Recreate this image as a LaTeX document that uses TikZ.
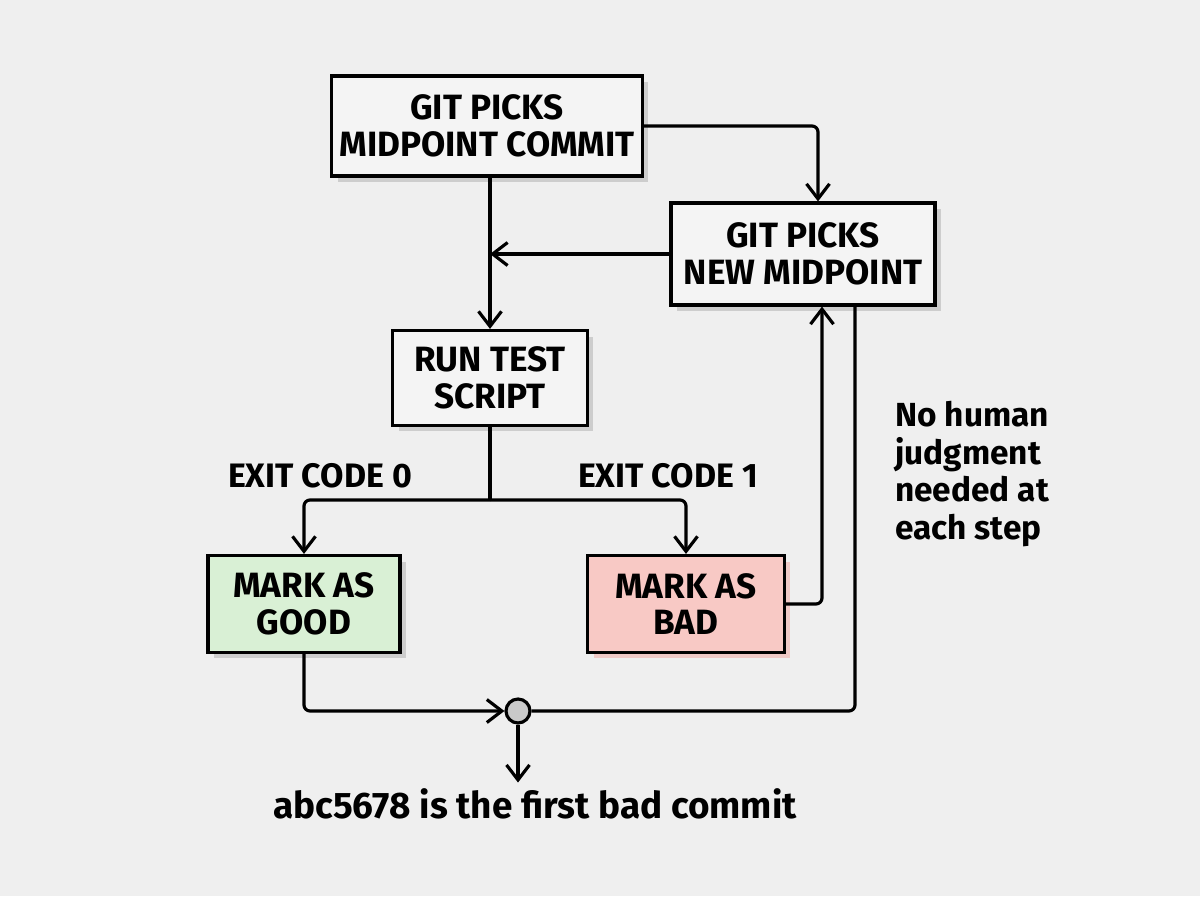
\documentclass[tikz,border=0pt]{standalone}
\usepackage{fontspec}
\setmainfont{Fira Sans}
\usetikzlibrary{arrows.meta,positioning,shadows}
\definecolor{paper}{HTML}{EFEFEF}
\definecolor{boxfill}{HTML}{F4F4F4}
\definecolor{goodfill}{HTML}{D9F0D5}
\definecolor{badfill}{HTML}{F8C9C5}
\definecolor{joinfill}{HTML}{C9C9C9}

\begin{document}
\begin{tikzpicture}[
    x=0.02cm, y=-0.02cm,
    box/.style={rectangle, draw, line width=1.8pt, inner sep=0pt, align=center, fill=boxfill,
        font=\fontsize{20}{21}\selectfont\bfseries,
        drop shadow={shadow xshift=0.12cm, shadow yshift=-0.12cm, fill=black, opacity=0.14}},
    good/.style={box, fill=goodfill},
    bad/.style={box, fill=badfill, drop shadow={shadow xshift=0.12cm, shadow yshift=-0.12cm, fill=badfill, opacity=0.8}},
    arrow/.style={-{Straight Barb[length=0.3cm, width=0.46cm, line width=1.8pt]}, line width=1.8pt, rounded corners=0.12cm},
    line/.style={line width=1.8pt, rounded corners=0.12cm},
    label/.style={font=\fontsize{19.3}{21}\selectfont\bfseries},
    note/.style={font=\fontsize{19}{21.5}\selectfont\bfseries, align=left}
]
\fill[paper] (0,0) rectangle (1200,896);
\useasboundingbox (0,0) rectangle (1200,896);

% Nodes
\node[box, minimum width=6.22cm, minimum height=2cm]    (midc) at (487, 126) {GIT PICKS\\MIDPOINT COMMIT};
\node[box, minimum width=5.28cm, minimum height=2.04cm] (newm) at (803, 254) {GIT PICKS\\NEW MIDPOINT};
\node[box, minimum width=3.9cm,  minimum height=1.9cm]  (runt) at (490, 378) {RUN TEST\\SCRIPT};
\node[good, minimum width=3.84cm, minimum height=1.94cm] (good) at (304, 604) {MARK AS\\GOOD};
\node[bad,  minimum width=3.94cm, minimum height=1.94cm] (bad)  at (686, 604) {MARK AS\\BAD};
\node[circle, draw, line width=1.8pt, fill=joinfill, minimum size=0.48cm, inner sep=0pt] (join) at (518, 711) {};
\node[label, font=\fontsize{21}{24}\selectfont\bfseries] (result) at (535, 804) {abc5678 is the first bad commit};
\coordinate (split) at (490, 500);

% Labels
\node[label] (exit0) at (320, 476) {EXIT CODE 0};
\node[label] (exit1) at (668, 476) {EXIT CODE 1};
\node[note, anchor=west] (human) at (889, 474) {No human\\judgment\\needed at\\each step};

% Arrows
\draw[arrow] (midc.south -| runt.north) -- (runt.north);
\draw[arrow] (midc.east) -| ([xshift=0.3cm]newm.north);
\draw[arrow] (newm.west) -- (newm.west -| runt.north);
\draw[line]  (runt.south) -- (split);
\draw[arrow] (split) -| (good.north);
\draw[arrow] (split) -| (bad.north);
\draw[arrow] (bad.east) -| ([xshift=0.38cm]newm.south);
\draw[line]  ([xshift=1.04cm]newm.south) |- (join.east);
\draw[arrow] (good.south) |- (join.west);
\draw[arrow] (join.south) -- (join.south |- result.north);

\end{tikzpicture}
\end{document}
